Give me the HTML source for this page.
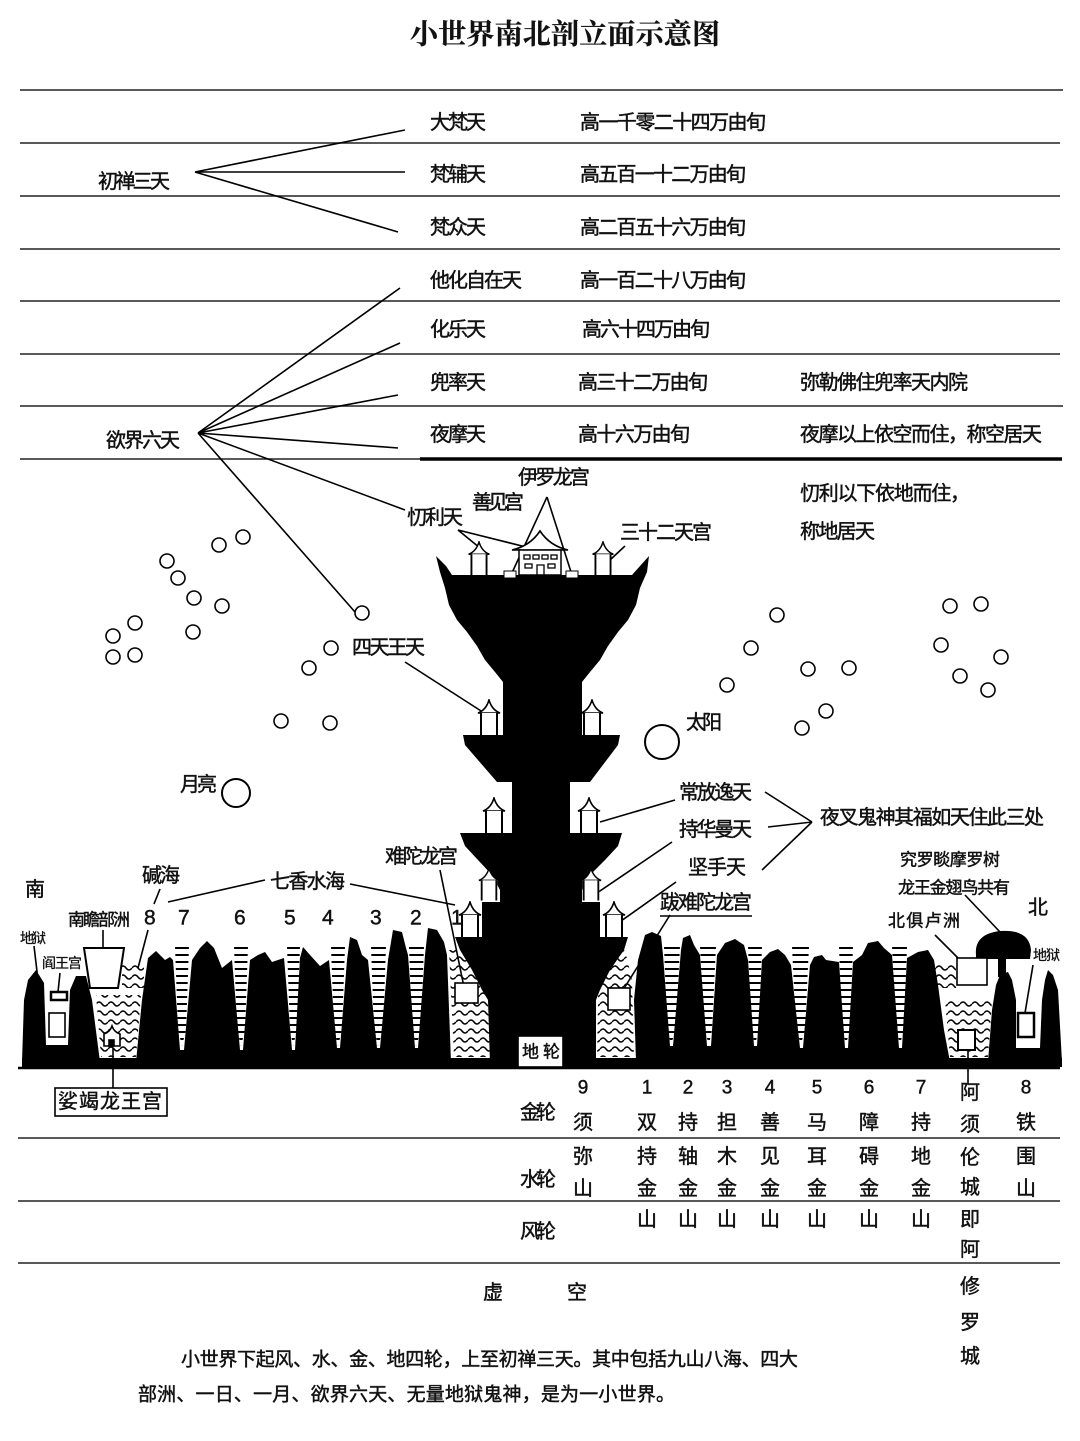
<!DOCTYPE html>
<html><head><meta charset="utf-8"><style>
html,body{margin:0;padding:0;background:#fff}
svg{display:block}
text{font-family:"Liberation Sans","Noto Sans CJK SC",sans-serif;fill:#111;dominant-baseline:central;stroke:#111;stroke-width:0.45px}
.t{font-size:20px}
.s{font-size:17px}
.xs{font-size:14px;stroke-width:0.3px}
.n{font-family:"Liberation Serif",serif;font-size:21px;stroke-width:0.2px}
.v{font-size:20px;text-anchor:middle}
</style></head><body>
<svg width="1080" height="1441" viewBox="0 0 1080 1441" xmlns="http://www.w3.org/2000/svg">
<defs>
<pattern id="dash" width="200" height="7" patternUnits="userSpaceOnUse"><path d="M0,3 H200" stroke="#000" stroke-width="2"/></pattern>
<pattern id="wave" width="12" height="9" patternUnits="userSpaceOnUse"><path d="M0,5 q3,-4 6,0 t6,0" stroke="#000" stroke-width="1.5" fill="none"/></pattern>
<symbol id="pav" viewBox="0 0 24 36" width="24" height="36">
<path d="M1,14 Q9,11 12,1 Q15,11 23,14 Z" fill="#fff" stroke="#000" stroke-width="1.6"/>
<rect x="3" y="14" width="18" height="22" fill="#fff"/>
<path d="M4,14 V36 M20,14 V36" stroke="#000" stroke-width="2"/>
</symbol>
</defs>
<rect width="1080" height="1441" fill="#fff"/>

<text x="565" y="35" style="font-family:'Liberation Serif','Noto Serif CJK SC',serif;font-size:28px;font-weight:bold;text-anchor:middle;stroke-width:0.3px" textLength="310">小世界南北剖立面示意图</text>

<g stroke="#222" stroke-width="1.6">
<line x1="20" y1="90" x2="1063" y2="90"/>
<line x1="20" y1="143" x2="1060" y2="143"/>
<line x1="20" y1="196" x2="1060" y2="196"/>
<line x1="20" y1="249" x2="1060" y2="249"/>
<line x1="20" y1="301" x2="1060" y2="301"/>
<line x1="20" y1="354" x2="1060" y2="354"/>
<line x1="20" y1="406" x2="1063" y2="406"/>
<line x1="20" y1="459" x2="420" y2="459"/>
</g>
<line x1="420" y1="459" x2="1062" y2="459" stroke="#000" stroke-width="3.5"/>

<g stroke="#000" stroke-width="1.6" fill="none">
<path d="M195,172 L405,130 M195,172 L405,172 M195,172 L398,232"/>
<path d="M198,433 L400,288 M198,433 L400,343 M198,433 L398,395 M198,433 L398,448 M198,433 L405,510 M198,433 L355,612"/>
<path d="M458,530 L480,548 M458,530 L530,548"/>
<path d="M547,497 L511,575 M547,497 L572,575"/>
<path d="M625,546 L610,560"/>
<path d="M405,662 L492,718"/>
<path d="M675,800 L600,822"/>
<path d="M672,842 L597,893"/>
<path d="M676,882 L614,926"/>
<path d="M765,792 L812,822 M768,827 L812,822 M762,870 L812,822"/>
<path d="M265,880 L168,902 M350,884 L455,905"/>
<path d="M160,889 L154,904"/>
<path d="M148,930 L138,968"/>
<path d="M103,930 L103,955"/>
<path d="M34,946 L38,980"/>
<path d="M60,973 L58,992"/>
<path d="M440,870 L465,992"/>
<path d="M670,915 L618,998"/>
<path d="M965,895 L1000,932"/>
<path d="M935,935 L975,975"/>
<path d="M1033,965 L1025,1013"/>
<path d="M968,1050 L968,1084"/>
<path d="M113,1048 L113,1088"/>
</g>

<g fill="none" stroke="#000" stroke-width="1.6">
<circle cx="219" cy="545" r="7"/><circle cx="243" cy="537" r="7"/><circle cx="167" cy="561" r="7"/><circle cx="178" cy="578" r="7"/><circle cx="194" cy="598" r="7"/><circle cx="222" cy="606" r="7"/><circle cx="135" cy="623" r="7"/><circle cx="113" cy="636" r="7"/><circle cx="113" cy="657" r="7"/><circle cx="135" cy="655" r="7"/><circle cx="193" cy="632" r="7"/><circle cx="309" cy="668" r="7"/><circle cx="331" cy="648" r="7"/><circle cx="362" cy="613" r="7"/><circle cx="281" cy="721" r="7"/><circle cx="330" cy="723" r="7"/>
<circle cx="777" cy="615" r="7"/><circle cx="751" cy="648" r="7"/><circle cx="727" cy="685" r="7"/><circle cx="808" cy="669" r="7"/><circle cx="849" cy="668" r="7"/><circle cx="826" cy="711" r="7"/><circle cx="802" cy="728" r="7"/><circle cx="950" cy="606" r="7"/><circle cx="981" cy="604" r="7"/><circle cx="941" cy="645" r="7"/><circle cx="1001" cy="657" r="7"/><circle cx="960" cy="676" r="7"/><circle cx="988" cy="690" r="7"/>
<circle cx="662" cy="742" r="17" stroke-width="2"/>
<circle cx="236" cy="793" r="14" stroke-width="2"/>
</g>

<path fill="#000" d="M436,556 L446,566 L452,575 L632,575 L649,556 L647,572 L640,588 L636,605 L628,620 L618,632 L608,646 L600,660 L590,672 L582,682 L582,735 L620,735 L618,745 L590,782 L570,782 L570,833 L622,833 L618,846 L605,860 L590,875 L582,890 L582,902 L600,902 L600,937 L628,937 L624,950 L610,970 L600,990 L596,1000 L596,1064 L490,1064 L488,1000 L482,990 L472,970 L460,950 L455,937 L482,937 L482,902 L500,902 L500,890 L492,875 L478,860 L465,846 L460,833 L512,833 L512,782 L497,782 L465,745 L463,735 L503,735 L503,682 L495,672 L485,660 L477,646 L467,632 L457,620 L449,605 L445,588 L440,572 Z"/>
<use href="#pav" x="466" y="541" width="26" height="34"/>
<use href="#pav" x="590" y="541" width="26" height="34"/>
<path d="M512,550 Q530,546 540,531 Q550,546 568,550 Z" fill="#fff" stroke="#000" stroke-width="1.6"/>
<rect x="519" y="550" width="42" height="25" fill="#fff" stroke="#000" stroke-width="1.5"/>
<g fill="none" stroke="#000" stroke-width="1.3"><rect x="524" y="555" width="6" height="4"/><rect x="533" y="555" width="6" height="4"/><rect x="542" y="555" width="6" height="4"/><rect x="551" y="555" width="6" height="4"/><rect x="525" y="564" width="7" height="4"/><rect x="548" y="564" width="7" height="4"/><path d="M537,575 V565 H544 V575"/></g>
<rect x="504" y="571" width="12" height="7" fill="#fff" stroke="#000"/>
<rect x="566" y="571" width="12" height="7" fill="#fff" stroke="#000"/>
<use href="#pav" x="477" y="699"/><use href="#pav" x="580" y="699"/>
<use href="#pav" x="482" y="797"/><use href="#pav" x="577" y="797"/>
<use href="#pav" x="478" y="866" width="22" height="36"/><use href="#pav" x="580" y="866" width="22" height="36"/>
<use href="#pav" x="458" y="901"/><use href="#pav" x="602" y="901"/>

<rect x="22" y="1058" width="1040" height="9" fill="#000"/>
<path fill="#000" d="M22,1062 L24,1000 L28,980 L36,970 L44,983 L46,1045 L68,1045 L70,990 L76,976 L86,976 L92,1000 L100,1062 Z"/>
<path fill="#000" d="M136,1062 L142,1000 L148,958 L156,951 L165,960 L170,957 L173,960 L180,1050 L184,1050 L192,960 L200,948 L207,941 L214,948 L222,968 L232,960 L240,1050 L243,1050 L250,960 L258,955 L265,952 L272,962 L284,958 L292,1050 L295,1050 L300,958 L303,947 L310,955 L320,966 L329,960 L337,1048 L340,1048 L347,960 L350,937 L357,940 L362,955 L368,960 L377,1048 L380,1048 L388,960 L393,930 L402,932 L406,948 L408,955 L415,1048 L418,1048 L425,955 L428,928 L437,930 L444,942 L447,955 L451,1062 Z"/>
<path fill="#000" d="M636,1062 L634,1000 L638,960 L645,935 L652,932 L661,936 L663,955 L670,1046 L673,1046 L681,950 L683,938 L690,935 L694,945 L700,955 L707,1046 L711,1046 L717,955 L725,943 L735,939 L744,945 L748,960 L754,1046 L757,1046 L762,960 L770,952 L778,949 L785,955 L791,965 L800,1048 L803,1048 L810,965 L814,957 L822,955 L826,960 L839,962 L845,1048 L848,1048 L853,962 L862,955 L868,943 L878,941 L884,948 L892,955 L899,1048 L902,1048 L907,958 L918,952 L928,950 L934,960 L938,985 L944,1030 L950,1062 Z"/>
<path fill="#000" d="M988,1062 L992,1010 L996,985 L1000,975 L1008,972 L1012,980 L1016,1000 L1016,1048 L1040,1048 L1042,1000 L1045,980 L1048,970 L1053,975 L1058,990 L1062,1062 Z"/>
<path fill="#000" d="M976,955 Q974,934 1000,931 Q1029,929 1031,950 L1030,959 L976,959 Z"/>
<rect x="998" y="955" width="8" height="22" fill="#000"/>

<g fill="url(#dash)">
<path d="M175,946 L189,946 L186,1030 L182,1046 L178,1030 Z"/>
<path d="M234,946 L248,946 L245,1030 L241,1046 L237,1030 Z"/>
<path d="M287,946 L300,946 L297,1030 L293,1046 L290,1030 Z"/>
<path d="M331,946 L345,946 L342,1030 L338,1046 L334,1030 Z"/>
<path d="M371,946 L386,946 L383,1030 L378,1046 L374,1030 Z"/>
<path d="M409,946 L424,946 L421,1030 L416,1046 L412,1030 Z"/>
<path d="M664,946 L680,946 L676,1030 L671,1044 L667,1030 Z"/>
<path d="M700,946 L716,946 L712,1030 L709,1044 L704,1030 Z"/>
<path d="M748,946 L762,946 L759,1030 L755,1044 L751,1030 Z"/>
<path d="M792,946 L809,946 L805,1030 L801,1044 L796,1030 Z"/>
<path d="M839,946 L853,946 L850,1030 L846,1044 L842,1030 Z"/>
<path d="M892,946 L907,946 L904,1030 L900,1044 L896,1030 Z"/>
</g>
<g fill="url(#wave)">
<path d="M122,962 L144,962 L144,988 L122,988 Z"/>
<path d="M96,995 L141,995 L136,1057 L101,1057 Z"/>
<path d="M449,950 L475,950 L487,975 L490,1057 L454,1057 Z"/>
<path d="M599,950 L625,950 L632,980 L634,1057 L597,1057 Z"/>
<path d="M934,965 L956,965 L956,988 L934,988 Z"/>
<path d="M945,1000 L992,1000 L988,1057 L950,1057 Z"/>
</g>
<g fill="#fff" stroke="#000" stroke-width="1.6">
<path d="M84,948 L124,948 L118,988 L90,988 Z" stroke-width="2"/>
<rect x="49" y="1013" width="16" height="24"/>
<rect x="51" y="992" width="16" height="8" stroke-width="2.5"/>
<rect x="455" y="983" width="23" height="20"/>
<rect x="608" y="988" width="22" height="22"/>
<rect x="957" y="958" width="30" height="27"/>
<rect x="958" y="1030" width="17" height="20" stroke-width="2"/>
<rect x="1018" y="1013" width="16" height="24" stroke-width="2.5"/>
<path d="M104,1034 Q110,1032 112,1026 Q114,1032 120,1034 V1046 H104 Z"/>
<rect x="109" y="1040" width="5" height="6" fill="#000"/>
<rect x="518" y="1036" width="45" height="31"/>
<rect x="55" y="1088" width="112" height="28"/>
</g>
<line x1="18" y1="1068" x2="1060" y2="1068" stroke="#000" stroke-width="2.5"/>

<g stroke="#222" stroke-width="1.6">
<line x1="18" y1="1138" x2="1060" y2="1138"/>
<line x1="18" y1="1201" x2="1060" y2="1201"/>
<line x1="18" y1="1263" x2="1060" y2="1263"/>
</g>

<g class="t">
<text x="430" y="123" textLength="56">大梵天</text>
<text x="430" y="175" textLength="56">梵辅天</text>
<text x="430" y="228" textLength="56">梵众天</text>
<text x="430" y="281" textLength="92">他化自在天</text>
<text x="430" y="330" textLength="56">化乐天</text>
<text x="430" y="383" textLength="56">兜率天</text>
<text x="430" y="435" textLength="56">夜摩天</text>
<text x="580" y="123" textLength="186">高一千零二十四万由旬</text>
<text x="580" y="175" textLength="166">高五百一十二万由旬</text>
<text x="580" y="228" textLength="166">高二百五十六万由旬</text>
<text x="580" y="281" textLength="166">高一百二十八万由旬</text>
<text x="582" y="330" textLength="128">高六十四万由旬</text>
<text x="578" y="383" textLength="130">高三十二万由旬</text>
<text x="578" y="435" textLength="112">高十六万由旬</text>
<text x="98" y="182" textLength="72">初禅三天</text>
<text x="106" y="441" textLength="74">欲界六天</text>
<text x="800" y="383" textLength="168">弥勒佛住兜率天内院</text>
<text x="800" y="435" textLength="242">夜摩以上依空而住，称空居天</text>
<text x="800" y="494" textLength="170">忉利以下依地而住，</text>
<text x="800" y="532" textLength="75">称地居天</text>
<text x="518" y="478" textLength="72">伊罗龙宫</text>
<text x="472" y="503" textLength="52">善见宫</text>
<text x="407" y="518" textLength="56">忉利天</text>
<text x="620" y="533" textLength="92">三十二天宫</text>
<text x="352" y="648" textLength="73">四天王天</text>
<text x="686" y="723" textLength="36">太阳</text>
<text x="180" y="785" textLength="37">月亮</text>
<text x="679" y="793" textLength="73">常放逸天</text>
<text x="679" y="830" textLength="73">持华曼天</text>
<text x="688" y="868" textLength="58">坚手天</text>
<text x="820" y="818" textLength="224">夜叉鬼神其福如天住此三处</text>
<text x="385" y="857" textLength="73">难陀龙宫</text>
<text x="660" y="903" textLength="92">跋难陀龙宫</text>
<text x="270" y="882" textLength="75">七香水海</text>
<text x="142" y="876" textLength="38">碱海</text>
<text x="25" y="890">南</text>
<text x="1028" y="908">北</text>
<text x="58" y="1102" textLength="104">娑竭龙王宫</text>
<text x="520" y="1113" textLength="36">金轮</text>
<text x="520" y="1180" textLength="36">水轮</text>
<text x="520" y="1232" textLength="36">风轮</text>
<text x="483" y="1293">虚</text>
<text x="567" y="1293">空</text>
</g>
<line x1="660" y1="916" x2="752" y2="916" stroke="#000" stroke-width="1.5"/>
<text class="s" x="522" y="1052" textLength="38">地轮</text>
<text class="s" x="68" y="920" textLength="62">南瞻部洲</text>
<text class="s" x="900" y="860" textLength="100">究罗睒摩罗树</text>
<text class="s" x="898" y="888" textLength="112">龙王金翅鸟共有</text>
<text class="s" x="888" y="921" textLength="72">北俱卢洲</text>
<text class="xs" x="20" y="938" textLength="26">地狱</text>
<text class="xs" x="42" y="963" textLength="40">阎王宫</text>
<text class="xs" x="1033" y="955" textLength="27">地狱</text>

<g class="n">
<text x="144" y="918">8</text><text x="178" y="918">7</text><text x="234" y="918">6</text><text x="284" y="918">5</text><text x="322" y="918">4</text><text x="370" y="918">3</text><text x="410" y="918">2</text><text x="451" y="918">1</text>
</g>

<g class="v">
<text x="583" y="1088" style="font-size:19px">9</text><text x="583" y="1123">须</text><text x="583" y="1157">弥</text><text x="583" y="1189">山</text>
<text x="647" y="1088" style="font-size:19px">1</text><text x="647" y="1123">双</text><text x="647" y="1157">持</text><text x="647" y="1189">金</text><text x="647" y="1220">山</text>
<text x="688" y="1088" style="font-size:19px">2</text><text x="688" y="1123">持</text><text x="688" y="1157">轴</text><text x="688" y="1189">金</text><text x="688" y="1220">山</text>
<text x="727" y="1088" style="font-size:19px">3</text><text x="727" y="1123">担</text><text x="727" y="1157">木</text><text x="727" y="1189">金</text><text x="727" y="1220">山</text>
<text x="770" y="1088" style="font-size:19px">4</text><text x="770" y="1123">善</text><text x="770" y="1157">见</text><text x="770" y="1189">金</text><text x="770" y="1220">山</text>
<text x="817" y="1088" style="font-size:19px">5</text><text x="817" y="1123">马</text><text x="817" y="1157">耳</text><text x="817" y="1189">金</text><text x="817" y="1220">山</text>
<text x="869" y="1088" style="font-size:19px">6</text><text x="869" y="1123">障</text><text x="869" y="1157">碍</text><text x="869" y="1189">金</text><text x="869" y="1220">山</text>
<text x="921" y="1088" style="font-size:19px">7</text><text x="921" y="1123">持</text><text x="921" y="1157">地</text><text x="921" y="1189">金</text><text x="921" y="1220">山</text>
<text x="970" y="1093">阿</text><text x="970" y="1125">须</text><text x="970" y="1158">伦</text><text x="970" y="1188">城</text><text x="970" y="1220">即</text><text x="970" y="1250">阿</text><text x="970" y="1287">修</text><text x="970" y="1323">罗</text><text x="970" y="1357">城</text>
<text x="1026" y="1088" style="font-size:19px">8</text><text x="1026" y="1123">铁</text><text x="1026" y="1157">围</text><text x="1026" y="1189">山</text>
</g>

<text x="181" y="1360" style="font-size:19px" textLength="617">小世界下起风、水、金、地四轮，上至初禅三天。其中包括九山八海、四大</text>
<text x="138" y="1395" style="font-size:19px" textLength="537">部洲、一日、一月、欲界六天、无量地狱鬼神，是为一小世界。</text>
</svg>
</body></html>
